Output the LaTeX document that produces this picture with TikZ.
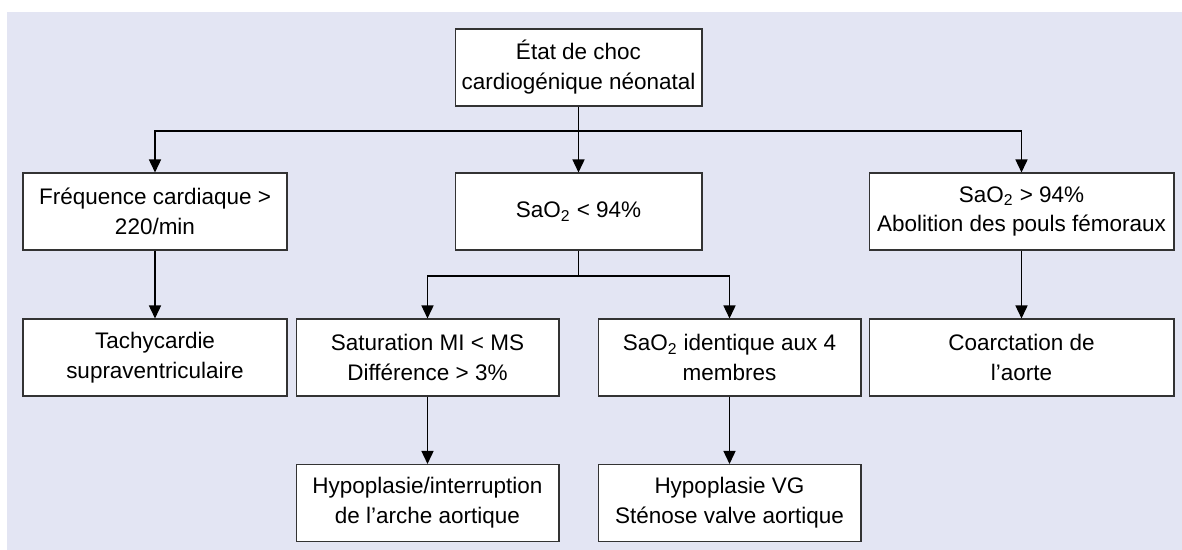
\documentclass[tikz,border=0pt]{standalone}
\usepackage{fontspec}
\setmainfont{Liberation Sans}
\usetikzlibrary{arrows.meta,positioning}
\definecolor{fond}{HTML}{E3E5F3}
\definecolor{bord}{HTML}{333333}

\begin{document}
\begin{tikzpicture}[x=0.02cm,y=-0.02cm,
        bloc/.style={draw=bord,line width=0.6pt,fill=white,align=center,
            minimum height=1.54cm,inner sep=0pt,
            font=\fontsize{12.8}{17}\selectfont},
        trait/.style={line width=0.85pt},
        fleche/.style={trait,-{Triangle[length=2.6mm,width=2.4mm]}}]
        \useasboundingbox (0,0) rectangle (1182,550);
        \fill[fond] (7,12) rectangle (1182,550);
        % niveau 1
        \node[bloc,minimum width=4.94cm] (choc) at (578.5,67.5) {État de choc\\cardiogénique néonatal};
        % niveau 2
        \node[bloc,minimum width=5.28cm] (freq) at (155,211.5) {Fréquence cardiaque >\\220/min};
        \node[bloc,minimum width=4.94cm] (satbas) at (578.5,211.5) {SaO\textsubscript{2} < 94\%};
        \node[bloc,minimum width=6.1cm] (sathaut) at (1021.5,211.5) {SaO\textsubscript{2} > 94\%\\Abolition des pouls fémoraux};
        % niveau 3
        \node[bloc,minimum width=5.28cm] (tachy) at (155,357.5) {Tachycardie\\supraventriculaire};
        \node[bloc,minimum width=5.26cm] (diff) at (427.5,357.5) {Saturation MI < MS\\Différence > 3\%};
        \node[bloc,minimum width=5.26cm] (ident) at (729.5,357.5) {SaO\textsubscript{2} identique aux 4\\membres};
        \node[bloc,minimum width=6.1cm] (coarc) at (1021.5,357.5) {Coarctation de\\l’aorte};
        % niveau 4
        \node[bloc,minimum width=5.26cm] (arche) at (427.5,503) {Hypoplasie/interruption\\de l’arche aortique};
        \node[bloc,minimum width=5.26cm] (hvg) at (729.5,503) {Hypoplasie VG\\Sténose valve aortique};
        % liaisons
        \coordinate (j1) at (578.5,131);
        \coordinate (j2) at (578.5,276);
        \draw[trait] (choc.south) -- (j1);
        \draw[fleche] (j1) -| (freq.north);
        \draw[fleche] (j1) -- (satbas.north);
        \draw[fleche] (j1) -| (sathaut.north);
        \draw[fleche] (freq.south) -- (tachy.north);
        \draw[fleche] (sathaut.south) -- (coarc.north);
        \draw[trait] (satbas.south) -- (j2);
        \draw[fleche] (j2) -| (diff.north);
        \draw[fleche] (j2) -| (ident.north);
        \draw[fleche] (diff.south) -- (arche.north);
        \draw[fleche] (ident.south) -- (hvg.north);
\end{tikzpicture}
\end{document}
